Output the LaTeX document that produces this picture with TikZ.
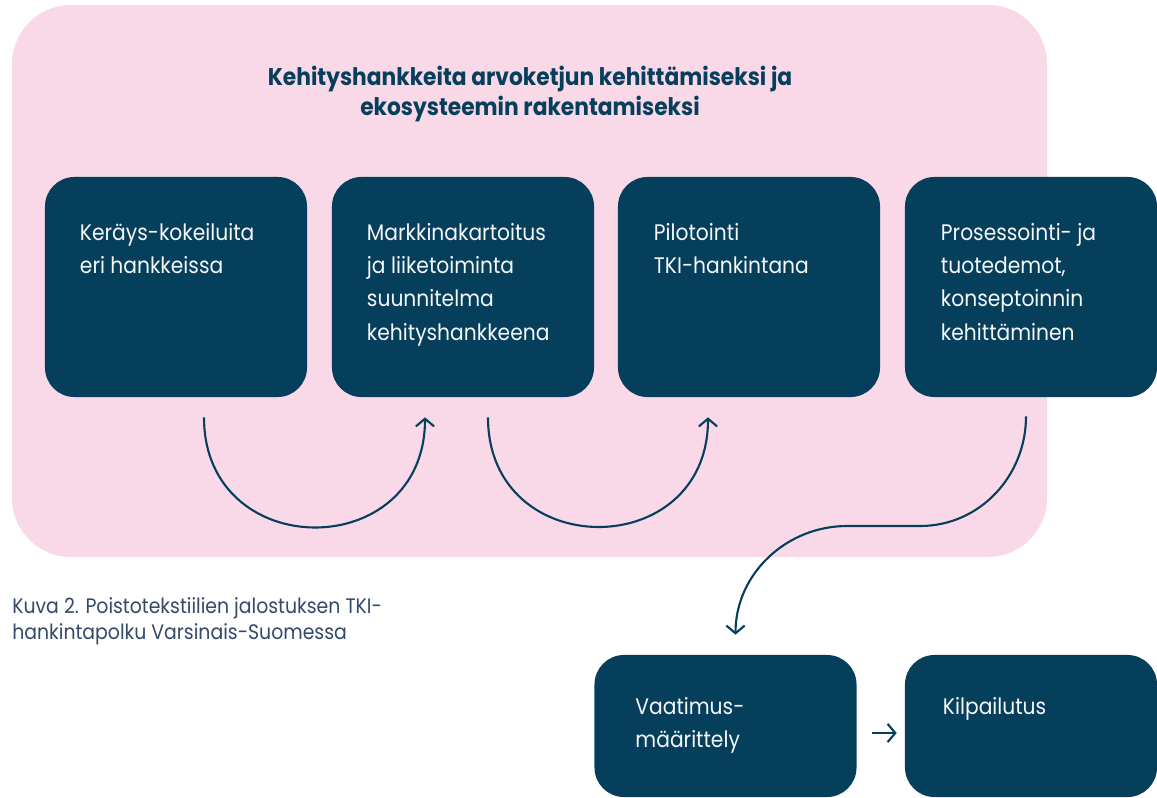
\documentclass[tikz,border=0pt]{standalone}
\usepackage{fontspec}
\setmainfont{Poppins}[FakeStretch=0.9]
\usetikzlibrary{arrows.meta}
\definecolor{navy}{HTML}{053F5C}
\definecolor{blush}{HTML}{F9D9E8}
\definecolor{capgray}{HTML}{34496A}
\tikzset{
    phase/.style={rectangle, fill=navy, rounded corners=21pt, inner sep=0pt, minimum width=6.55cm, minimum height=5.5cm}, % 步骤框
    low phase/.style={phase, minimum height=3.55cm},
    phase text/.style={anchor=north west, align=left, inner sep=0pt, text=white!96!navy},
    flow/.style={draw=navy, line width=1.5pt, -{Straight Barb[length=5.5pt, width=13pt, line width=1.5pt]}}
}

\begin{document}
\begin{tikzpicture}[x=0.025cm, y=-0.025cm, font=\fontsize{16}{23.7}\selectfont]
    \useasboundingbox (0,0) rectangle (1157,797);

    % 背景
    \fill[blush, rounded corners=42pt] (12,5) rectangle (1047,557);
    \node[font=\bfseries\fontsize{17.2}{21.8}\selectfont, text=navy, align=center] (title) at (530,94)
        {Kehityshankkeita arvoketjun kehittämiseksi ja\\ekosysteemin rakentamiseksi};

    % 上排
    \node[phase] (b1) at (176,287) {};
    \node[phase] (b2) at (463,287) {};
    \node[phase] (b3) at (749,287) {};
    \node[phase, minimum width=6.3cm] (b4) at (1031,287) {};
    \node[phase text] (t1) at ([shift={(35,46)}]b1.north west) {Keräys-kokeiluita\\eri hankkeissa};
    \node[phase text] (t2) at ([shift={(35,46)}]b2.north west) {Markkinakartoitus\\ja liiketoiminta\\suunnitelma\\kehityshankkeena};
    \node[phase text] (t3) at ([shift={(36,46)}]b3.north west) {Pilotointi\\TKI-hankintana};
    \node[phase text] (t4) at ([shift={(36,46)}]b4.north west) {Prosessointi- ja\\tuotedemot,\\konseptoinnin\\kehittäminen};

    % 下排
    \node[low phase] (b5) at (725.5,726) {};
    \node[low phase, minimum width=6.3cm] (b6) at (1031,726) {};
    \node[phase text] (t5) at ([shift={(41,42)}]b5.north west) {Vaatimus-\\määrittely};
    \node[phase text] (t6) at ([shift={(38,42)}]b6.north west) {Kilpailutus};

    % 说明
    \node[anchor=north west, align=left, inner sep=0pt, text=capgray, font=\fontsize{14.9}{18.5}\selectfont] (cap) at (12,597)
        {Kuva 2. Poistotekstiilien jalostuksen TKI-\\hankintapolku Varsinais-Suomessa};

    % 箭头
    \coordinate (s1) at ([shift={(28,20)}]b1.south);
    \coordinate (e1) at ([shift={(-38,20)}]b2.south);
    \coordinate (s2) at ([shift={(25,20)}]b2.south);
    \coordinate (e2) at ([shift={(-41,20)}]b3.south);
    \coordinate (s3) at ([shift={(-5,19)}]b4.south);
    \coordinate (e3) at ([shift={(10,-20)}]b5.north);
    \coordinate (m1) at ([shift={(15,7)}]b5.east);
    \coordinate (m2) at ([shift={(-8,7)}]b6.west);
    \draw[flow] (s1) to[out=-90, in=-90, looseness=1.7] (e1);
    \draw[flow] (s2) to[out=-90, in=-90, looseness=1.7] (e2);
    \draw[flow] (s3) to[out=-90, in=0] (920,526) -- (847,526) to[out=180, in=90] (e3);
    \draw[flow] (m1) -- (m2);
\end{tikzpicture}
\end{document}
